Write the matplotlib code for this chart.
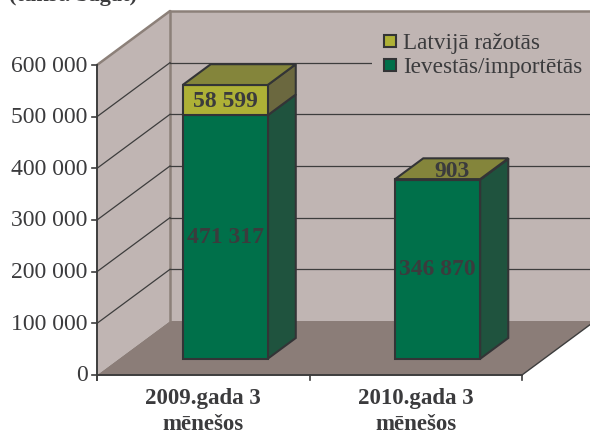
import matplotlib
matplotlib.use("Agg")
import matplotlib.pyplot as plt
from matplotlib.patches import Polygon, Rectangle

categories = ["2009.gada 3\nmēnešos", "2010.gada 3\nmēnešos"]
imported = [471317, 346870]
local = [58599, 903]
imported_labels = ["471 317", "346 870"]
local_labels = ["58 599", "903"]
series_names = ["Latvijā ražotās", "Ievestās/importētās"]
yticks = [0, 100000, 200000, 300000, 400000, 500000, 600000]
ytick_labels = ["0", "100 000", "200 000", "300 000", "400 000", "500 000", "600 000"]

W, H = 590, 435
plt.rcParams["font.family"] = ["Liberation Serif", "DejaVu Serif"]
TXT = "#3b3b3d"
fig = plt.figure(figsize=(W / 100, H / 100), dpi=100, facecolor="white")
L, R, B, T = 97, 522, 376, 66
ax = fig.add_axes([L / W, 1 - B / H, (R - L) / W, (B - T) / H])
ax.set_xlim(0, 2)
ax.set_ylim(0, 600000)
ax.axis("off")

UX = (R - L) / 2
UY = 600000 / (B - T)
DX, DY = 73, 54


def P(x, v, d=0.0):
    return (x + d * DX / UX, v + d * DY * UY)


def poly(pts, fc, ec="none", lw=0, z=1):
    ax.add_patch(Polygon(pts, closed=True, fc=fc, ec=ec, lw=lw, zorder=z,
                         clip_on=False, joinstyle="miter"))


WALL = "#c0b5b3"
FLOOR = "#8b7d78"
EDGE = "#8c8079"
GRID = "#3d3d3d"

# walls and floor
poly([P(0, 0), P(0, 0, 1), P(0, 600000, 1), P(0, 600000)], WALL, z=1)
poly([P(0, 0, 1), P(2, 0, 1), P(2, 600000, 1), P(0, 600000, 1)], WALL, z=1)
poly([P(0, 0), P(2, 0), P(2, 0, 1), P(0, 0, 1)], FLOOR, z=2)
for a, b in [(P(0, 600000), P(0, 600000, 1)), (P(0, 600000, 1), P(2, 600000, 1)),
             (P(0, 600000, 1), P(0, 0, 1))]:
    ax.plot(*zip(a, b), color=EDGE, lw=1.8, zorder=2, clip_on=False, solid_capstyle="round")

# gridlines
for v in yticks[1:-1]:
    ax.plot(*zip(P(0, v), P(0, v, 1)), color=GRID, lw=0.9, zorder=3, clip_on=False)
    ax.plot(*zip(P(0, v, 1), P(2, v, 1)), color=GRID, lw=0.9, zorder=3, clip_on=False)

# bars
GREEN, GREEN_S, GREEN_T = "#00704a", "#1f533e", "#84853b"
OLIVE, OLIVE_S, OLIVE_T = "#aeb136", "#6b683f", "#84853b"
BE = "#333436"
D0, D1 = 0.30, 0.685
HW = 85 / UX / 2


def segment(cx, v0, v1, fc, side, z):
    x0, x1 = cx - HW, cx + HW
    poly([P(x1, v0, D0), P(x1, v0, D1), P(x1, v1, D1), P(x1, v1, D0)], side, BE, 1.5, z)
    poly([P(x0, v0, D0), P(x1, v0, D0), P(x1, v1, D0), P(x0, v1, D0)], fc, BE, 1.5, z + 0.1)


for i, (a, b) in enumerate(zip(imported, local)):
    cx = i + 0.5
    segment(cx, 0, a, GREEN, GREEN_S, 4)
    segment(cx, a, a + b, OLIVE, OLIVE_S, 5)
    x0, x1 = cx - HW, cx + HW
    tv = a + b
    poly([P(x0, tv, D0), P(x1, tv, D0), P(x1, tv, D1), P(x0, tv, D1)], OLIVE_T, BE, 1.5, 6)
    tx, ty = P(cx, a / 2, D0)
    ax.text(tx, ty + 1000, imported_labels[i], ha="center", va="center", color=TXT,
            fontsize=17, fontweight="bold", zorder=7)
    if b > 5000:
        tx, ty = P(cx, a + b / 2, D0)
    else:
        tx, ty = P(cx, a + b, (D0 + D1) / 2)
        ty -= 3000
    ax.text(tx, ty, local_labels[i], ha="center", va="center", color=TXT,
            fontsize=17, fontweight="bold", zorder=7)

# axes lines and ticks
ax.plot([0, 0], [-10000, 600000], color=GRID, lw=1.4, zorder=8, clip_on=False)
ax.plot([0, 2], [0, 0], color=GRID, lw=1.4, zorder=8, clip_on=False)
ax.plot(*zip(P(2, 0), P(2, 0, 1)), color=GRID, lw=1.0, zorder=3, clip_on=False)
for x in [1, 2]:
    ax.plot([x, x], [0, -10000], color=GRID, lw=1.2, zorder=8, clip_on=False)
for v, s in zip(yticks, ytick_labels):
    ax.plot([-0.025, 0], [v, v], color=GRID, lw=1.2, zorder=8, clip_on=False)
    ax.text(-0.045, v, s, ha="right", va="center", color=TXT, fontsize=17, clip_on=False)

for i, s in enumerate(categories):
    ax.text(i + 0.5, -24000, s, ha="center", va="top", color=TXT, fontsize=16.5,
            fontweight="bold", linespacing=1.3, clip_on=False)

# legend
fig.patches.append(Rectangle((372 / W, 1 - 76 / H), 218 / W, 50 / H, transform=fig.transFigure,
                             fc=WALL, ec="none", zorder=3.5))
for yp, col, name in [(42, OLIVE, series_names[0]), (66, GREEN, series_names[1])]:
    fig.patches.append(Rectangle((384 / W, 1 - (yp + 6) / H), 12 / W, 12 / H,
                                 transform=fig.transFigure, fc=col, ec=BE, lw=1.5, zorder=9))
    fig.text(403 / W, 1 - (yp - 1) / H, name, ha="left", va="center_baseline", color=TXT,
             fontsize=16.7, zorder=10)

# cut-off heading at the very top
fig.text(9 / W, 1 - 6 / H, "(tūkst. bagāt)", ha="left", va="bottom", color=TXT,
         fontsize=16, fontweight="bold")

fig.savefig("out.png", dpi=100, facecolor="white")
